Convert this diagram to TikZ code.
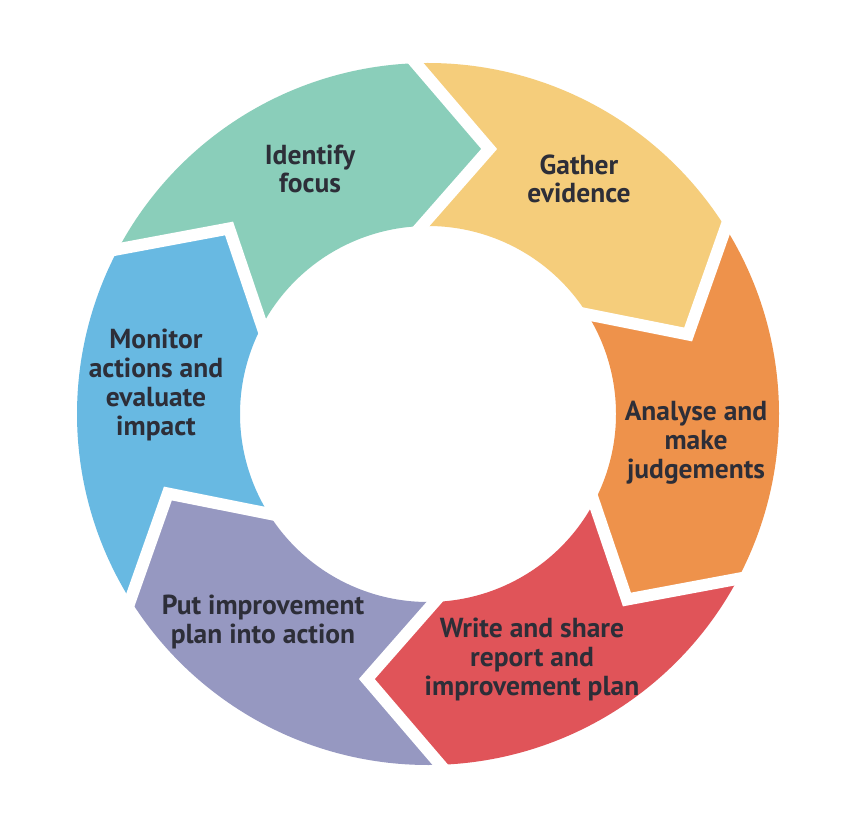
\documentclass[tikz,border=0pt]{standalone}
\usepackage{fontspec}
\setmainfont{PT Sans}
\definecolor{cteal}{HTML}{8ACEBA}
\definecolor{cyellow}{HTML}{F5CD7B}
\definecolor{corange}{HTML}{EE924B}
\definecolor{cred}{HTML}{E05459}
\definecolor{cpurple}{HTML}{9698C1}
\definecolor{cblue}{HTML}{68B9E2}
\definecolor{ctxt}{HTML}{2D2E38}
\begin{document}
\begin{tikzpicture}[x=1pt,y=1pt,
  gapline/.style={draw=white,line width=12pt,line join=miter,miter limit=10,
    shorten <=-25pt, shorten >=-25pt},
  lbl/.style={font=\fontsize{27.5}{28.7}\selectfont\bfseries, text=ctxt,
    align=center, inner sep=0pt, anchor=base}]
\useasboundingbox (0,0) rectangle (858,812);
\fill[white] (0,0) rectangle (858,812);
\coordinate (C) at (428,398);
\def\Rout{351}\def\Rin{188}\def\Rmid{272}\def\tipoff{15}
% ring segments (each with a notch at its start and a tip at its end, clockwise)
\foreach \s/\col in {152/cteal, 92/cyellow, 32/corange, -28/cred, -88/cpurple, -148/cblue} {
  \pgfmathsetmacro\e{\s-60}
  \pgfmathsetmacro\et{\e-\tipoff}
  \pgfmathsetmacro\st{\s-\tipoff}
  \fill[\col] ([shift={(\s:\Rout pt)}]C)
     arc[start angle=\s, end angle=\e, radius=\Rout pt]
     -- ([shift={(\et:\Rmid pt)}]C)
     -- ([shift={(\e:\Rin pt)}]C)
     arc[start angle=\e, end angle=\s, radius=\Rin pt]
     -- ([shift={(\st:\Rmid pt)}]C) -- cycle;
}
% white gaps between segments
\foreach \b in {152,92,32,-28,-88,-148} {
  \pgfmathsetmacro\bt{\b-\tipoff}
  \draw[gapline] ([shift={(\b:\Rout pt)}]C) -- ([shift={(\bt:\Rmid pt)}]C)
     -- ([shift={(\b:\Rin pt)}]C);
}
% labels (anchor base = baseline of the last line)
\node[lbl] (identify) at (310,619) {Identify\\focus};
\node[lbl] (gather) at (579,609) {Gather\\evidence};
\node[lbl] (analyse) at (696,334) {Analyse and\\make\\judgements};
\node[lbl] (write) at (532,117) {Write and share\\report and\\improvement plan};
\node[lbl] (put) at (263,169) {Put improvement\\plan into action};
\node[lbl] (monitor) at (156,377) {Monitor\\actions and\\evaluate\\impact};
\end{tikzpicture}
\end{document}
